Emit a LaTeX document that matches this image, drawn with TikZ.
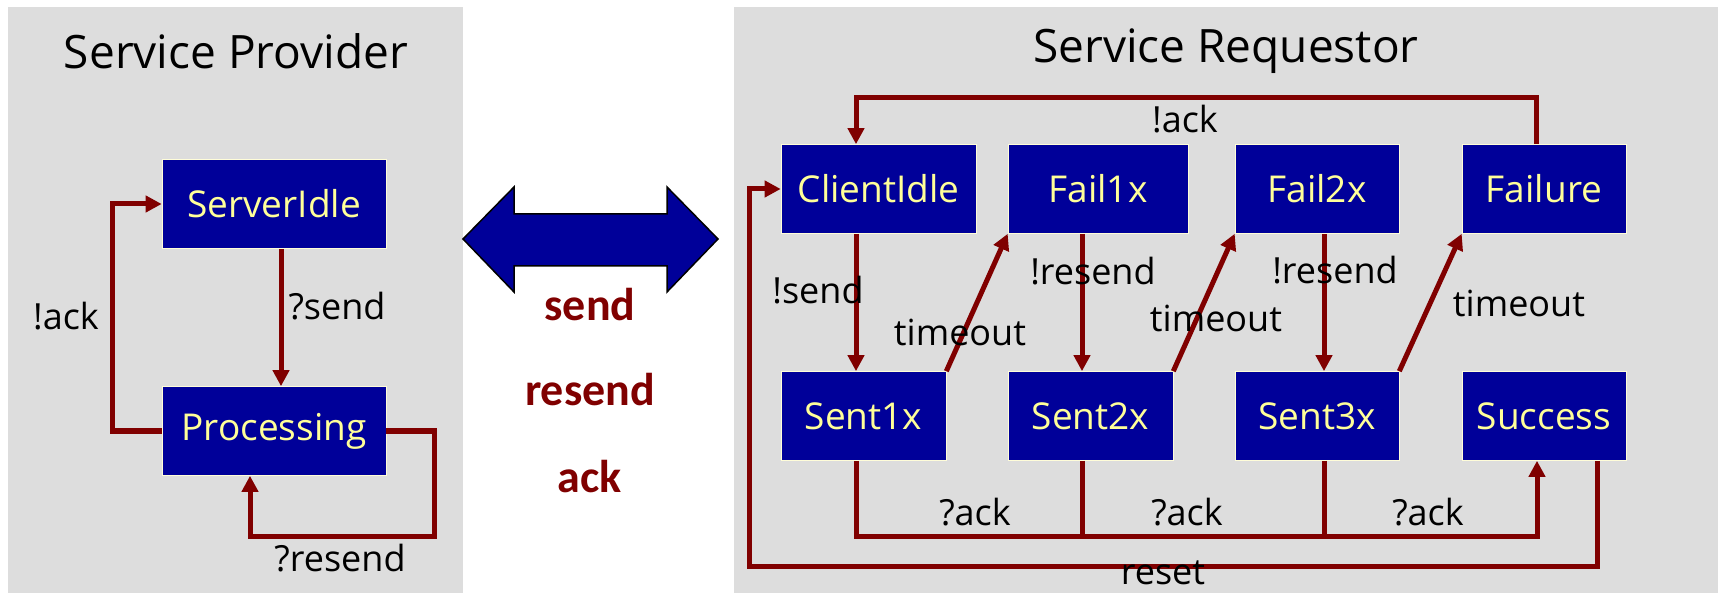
\documentclass[tikz,border=0pt]{standalone}
\usepackage{fontspec}
\setmainfont{Open Sans}
\newfontfamily\carlito{Carlito}
\usetikzlibrary{arrows.meta,calc}
\definecolor{panelgray}{RGB}{221,221,221}
\definecolor{boxblue}{RGB}{0,0,153}
\definecolor{boxtext}{RGB}{255,255,153}
\definecolor{linered}{RGB}{128,0,0}
\begin{document}
\begin{tikzpicture}[x=1pt,y=-1pt,
 statebox/.style={fill=boxblue, draw=white!85!yellow, line width=0.6pt, text=boxtext, font=\fontsize{37}{40}\selectfont, minimum height=89pt, inner sep=0pt},
 conn/.style={draw=linered, line width=5pt},
 arr/.style={conn, -{Triangle[length=16pt,width=16pt]}},
 lbl/.style={font=\fontsize{36}{40}\selectfont, inner sep=0pt, text=black},
 ttl/.style={font=\fontsize{46}{50}\selectfont, inner sep=0pt, text=black},
 msg/.style={font=\carlito\bfseries\fontsize{46}{50}\selectfont, text=linered, inner sep=0pt}]
\useasboundingbox (0,0) rectangle (1719,593);
\fill[white] (0,0) rectangle (1719,593);
% panels
\fill[panelgray] (8,7) rectangle (463,593);
\fill[panelgray] (734,7) rectangle (1718,593);
% titles
\node[ttl] (tprov) at (236,51) {Service Provider};
\node[ttl] (treq) at (1226,51) {Service Requestor};
% double arrow
\filldraw[fill=boxblue, draw=black, line width=1.5pt]
 (463,239) -- (514,187) -- (514,214) -- (667,214) -- (667,187) -- (718,239)
 -- (667,292) -- (667,266) -- (514,266) -- (514,292) -- cycle;
\node[msg] (msend) at (590,305) {send};
\node[msg] (mresend) at (590,390) {resend};
\node[msg] (mack) at (590,477) {ack};
% provider states
\node[statebox, minimum width=224pt] (ServerIdle) at (274,204) {ServerIdle};
\node[statebox, minimum width=224pt] (Processing) at (274,431) {Processing};
\draw[arr] ([xshift=7pt]ServerIdle.south) -- ([xshift=7pt]Processing.north);
\draw[arr] (Processing.west) -- ++(-49,0) |- (ServerIdle.west);
\draw[arr] (Processing.east) -- ++(48,0) -- ++(0,105) -| ([xshift=-24pt]Processing.south);
\node[lbl] (lsend) at (337,306) {?send};
\node[lbl] (lack) at (66,316) {!ack};
\node[lbl] (lresend) at (340,558) {?resend};
% requestor states
\node[statebox, minimum width=195pt] (ClientIdle) at (878.5,189) {ClientIdle};
\node[statebox, minimum width=180pt] (Fail1x) at (1098,189) {Fail1x};
\node[statebox, minimum width=164pt] (Fail2x) at (1317,189) {Fail2x};
\node[statebox, minimum width=164pt] (Failure) at (1544,189) {Failure};
\node[statebox, minimum width=165pt] (Sent1x) at (863.5,416) {Sent1x};
\node[statebox, minimum width=165pt] (Sent2x) at (1090.5,416) {Sent2x};
\node[statebox, minimum width=164pt] (Sent3x) at (1317,416) {Sent3x};
\node[statebox, minimum width=164pt] (Success) at (1544,416) {Success};
% transitions
\draw[arr] ([xshift=-8pt]Failure.north) -- ++(0,-46.5) -| ([xshift=-22.5pt]ClientIdle.north);
\draw[arr] ([xshift=-22.5pt]ClientIdle.south) -- ([xshift=-7.5pt]Sent1x.north);
\draw[arr] (Sent1x.north east) -- (Fail1x.south west);
\draw[arr] ([xshift=-16pt]Fail1x.south) -- ([xshift=-8.5pt]Sent2x.north);
\draw[arr] (Sent2x.north east) -- (Fail2x.south west);
\draw[arr] ([xshift=7pt]Fail2x.south) -- ([xshift=7pt]Sent3x.north);
\draw[arr] (Sent3x.north east) -- (Failure.south west);
\draw[arr] ([xshift=-7.5pt]Sent1x.south) -- ++(0,75.5) -| ([xshift=-7pt]Success.south);
\draw[conn] ([xshift=-8.5pt]Sent2x.south) -- ++(0,75.5);
\draw[conn] ([xshift=7pt]Sent3x.south) -- ++(0,75.5);
\draw[arr] ([xshift=53pt]Success.south) -- ++(0,105.5) -| ([xshift=-31pt]ClientIdle.west) -- (ClientIdle.west);
% labels
\node[lbl] (rack) at (1185,119) {!ack};
\node[lbl] (rsend) at (818,290) {!send};
\node[lbl] (to1) at (960,332) {timeout};
\node[lbl] (rs1) at (1093,271) {!resend};
\node[lbl] (to2) at (1216,318) {timeout};
\node[lbl] (rs2) at (1335,270) {!resend};
\node[lbl] (to3) at (1519,303) {timeout};
\node[lbl] (qa1) at (975,512) {?ack};
\node[lbl] (qa2) at (1187,512) {?ack};
\node[lbl] (qa3) at (1428,512) {?ack};
\node[lbl] (rst) at (1163,573) {reset};
\end{tikzpicture}
\end{document}
